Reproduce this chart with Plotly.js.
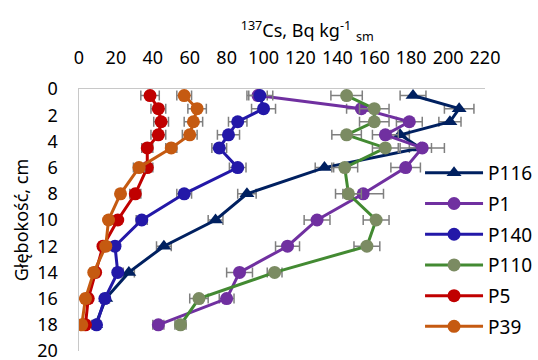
<!DOCTYPE html>
<html>
<head>
<meta charset="utf-8">
<script src="https://cdn.plot.ly/plotly-3.0.1.min.js"></script>
<style>html,body{margin:0;padding:0;background:#fff}#chart{width:538px;height:360px}</style>
</head>
<body>
<div id="chart"></div>
<script>
const depth = [0.5, 1.5, 2.5, 3.5, 4.5, 6, 8, 10, 12, 14, 16, 18];
const seriesNames = ["P116", "P1", "P140", "P110", "P5", "P39"];
const P116 = [181, 206, 201, 174, 185, 133, 91, 74, 46, 27, 14.5, 9];
const P1   = [97, 153, 179, 166, 186, 177, 154, 129, 113, 87, 80, 43];
const P140 = [98, 100, 86, 81, 76, 86, 57, 34, 19.5, 21, 14, 9.5];
const P110 = [145, 160, 160, 145, 166, 144, 146, 161, 156, 106, 65, 55];
const P5   = [38.5, 43, 44.5, 43, 37, 37, 30.5, 21, 13, 9, 5, 3.5];
const P39  = [57, 64, 62, 60, 50, 32.5, 22.5, 16, 14.5, 8, 3.5, 1.5];
const eP116 = [7, 8, 6, 5, 6, 5, 5, 4, 4, 3, 2, 2];
const eP1   = [5, 8, 7, 7, 12, 8, 11, 7, 6.5, 7, 4, 3];
const eP140 = [7, 6.5, 5, 6, 4, 4.5, 4, 3, 2, 2, 2, 2];
const eP110 = [8.5, 8, 8, 8, 7, 7, 7, 7, 7, 4, 5, 3];
const eP5   = [5, 4, 4, 4, 3, 3, 3, 2, 2, 2, 2, 2];
const eP39  = [4, 5, 5, 4, 3, 3, 2, 2, 2, 2, 2, 1];

const values = [P116, P1, P140, P110, P5, P39];
const errors = [eP116, eP1, eP140, eP110, eP5, eP39];
const lineColors = ["#002060", "#7030A0", "#2318A8", "#438A32", "#C00000", "#C55A11"];
const markerColors = ["#002060", "#7030A0", "#2318A8", "#7B8B62", "#C00000", "#C55A11"];
const symbols = ["triangle-up", "circle", "circle", "circle", "circle", "circle"];

const FONT = "Noto Sans, Open Sans, sans-serif";

const traces = seriesNames.map((n, i) => ({
  type: "scatter",
  mode: "lines+markers",
  name: n,
  legendgroup: n,
  x: values[i],
  y: depth,
  line: {color: lineColors[i], width: 3},
  marker: {color: markerColors[i], symbol: symbols[i], size: 13, line: {width: 0}},
  error_x: {type: "data", array: errors[i], visible: true, color: "#7F7F7F", thickness: 1.5, width: 5}
}));

const layout = {
  width: 538, height: 360,
  margin: {l: 79, r: 53, t: 89, b: 9, autoexpand: false},
  paper_bgcolor: "#fff", plot_bgcolor: "#fff",
  font: {family: FONT, size: 18, color: "#000"},
  showlegend: true,
  legend: {
    x: 0.84, xanchor: "left", y: 0.752, yanchor: "top",
    bgcolor: "rgba(0,0,0,0)", font: {family: FONT, size: 19, color: "#000"},
    tracegroupgap: 3, itemwidth: 58
  },
  title: {
    text: "<sup>137</sup>Cs, Bq kg<sup>-1</sup> <sub>sm</sub>",
    font: {family: FONT, size: 18, color: "#000"},
    xref: "container", x: 0.571, xanchor: "center",
    yref: "container", y: 1 - 31/360, yanchor: "middle"
  },
  xaxis: {
    side: "top", range: [0, 220], tick0: 0, dtick: 20,
    automargin: false, ticklabeloverflow: "allow",
    showgrid: false, zeroline: false,
    showline: true, linecolor: "#C8C8C8", linewidth: 1.5,
    ticks: "", ticklabelstandoff: 16,
    tickfont: {family: FONT, size: 18, color: "#000"}
  },
  yaxis: {
    range: [20, 0], tick0: 0, dtick: 2,
    automargin: false, ticklabeloverflow: "allow",
    showgrid: false, zeroline: false,
    showline: true, linecolor: "#C8C8C8", linewidth: 1.5,
    ticks: "", ticklabelstandoff: 16,
    tickfont: {family: FONT, size: 18, color: "#000"},
    title: {text: "Głębokość, cm", font: {family: FONT, size: 18, color: "#000"}, standoff: 4}
  }
};

Plotly.newPlot("chart", traces, layout, {displayModeBar: false, staticPlot: true});
</script>
</body>
</html>
